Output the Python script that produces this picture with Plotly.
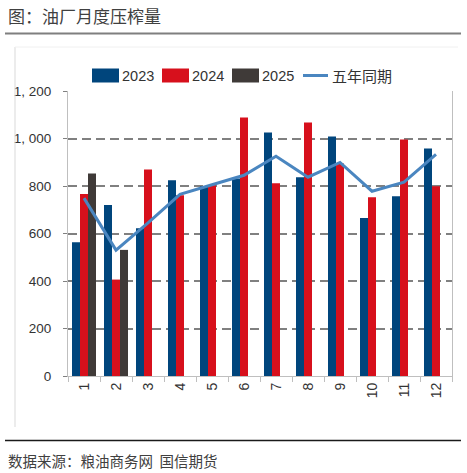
import plotly.graph_objects as go

# data
months = ["1", "2", "3", "4", "5", "6", "7", "8", "9", "10", "11", "12"]
y2023 = [563, 720, 622, 824, 799, 832, 1025, 837, 1008, 665, 757, 958]
y2024 = [766, 406, 870, 761, 803, 1088, 812, 1067, 895, 753, 996, 799]
y2025 = [853, 531, None, None, None, None, None, None, None, None, None, None]
avg5 = [749, 530, 645, 765, 805, 845, 925, 837, 899, 778, 816, 933]
series_names = ["2023", "2024", "2025", "五年同期"]
y_ticks = [0, 200, 400, 600, 800, 1000, 1200]
y_tick_text = ["0", "200", "400", "600", "800", "1, 000", "1, 200"]

title_text = "图：油厂月度压榨量"
source_text = "数据来源：粮油商务网  国信期货"

colors = ["#00457C", "#D7101C", "#3F3A38", "#4A86C0"]

W, H = 467, 473
L, R, T, B = 68, 452, 91, 376  # plot area in pixels
num_font = "Liberation Sans"
cjk_font = "Noto Sans CJK SC"


def px(p):
    return (p - L) / (R - L)


def py(p):
    return (B - p) / (B - T)


fig = go.Figure()
for name, vals, col in zip(series_names[:3], [y2023, y2024, y2025], colors[:3]):
    fig.add_trace(go.Bar(x=months, y=vals, name=name, marker_color=col,
                         marker_line_width=0, showlegend=False))
fig.add_trace(go.Scatter(x=months, y=avg5, name=series_names[3], mode="lines",
                         line=dict(color=colors[3], width=3), showlegend=False))

fig.update_layout(
    width=W, height=H,
    margin=dict(l=L, r=W - R, t=T, b=H - B),
    paper_bgcolor="white", plot_bgcolor="white",
    barmode="group", bargap=0.25, bargroupgap=0,
    font=dict(family=num_font, color="#333333"),
)
fig.update_xaxes(
    type="category", showline=True, linecolor="#BFBFBF", linewidth=1,
    ticks="outside", tickson="boundaries", ticklen=5, tickcolor="#BFBFBF",
    tickangle=-90, tickfont=dict(family=num_font, size=14, color="#333333"),
    showgrid=False,
)
fig.update_yaxes(
    range=[0, 1200], tickvals=y_ticks, ticktext=y_tick_text,
    showline=True, mirror=True, linecolor="#BFBFBF", linewidth=1,
    ticks="outside", ticklen=4, tickcolor="#808080", ticklabelstandoff=9,
    tickfont=dict(family=num_font, size=13.5, color="#333333"),
    showgrid=True, gridcolor="#808080", gridwidth=1.5, griddash="9px,5px",
    zeroline=False,
)

shapes = []
annotations = []

# manual legend
legend_boxes = [(92, 119), (162, 189), (232, 259)]
for (x0, x1), name, col in zip(legend_boxes, series_names[:3], colors[:3]):
    shapes.append(dict(type="rect", xref="paper", yref="paper",
                       x0=px(x0), x1=px(x1), y0=py(82.5), y1=py(68.5),
                       fillcolor=col, line_width=0))
    annotations.append(dict(text=name, x=px(x1 + 1), y=py(75.5), xref="paper", yref="paper",
                            xanchor="left", yanchor="middle", showarrow=False,
                            font=dict(family=num_font, size=14.5, color="#333333")))
shapes.append(dict(type="line", xref="paper", yref="paper",
                   x0=px(303), x1=px(328), y0=py(75.5), y1=py(75.5),
                   line=dict(color=colors[3], width=3)))
annotations.append(dict(text=series_names[3], x=px(330), y=py(75.5), xref="paper", yref="paper",
                        xanchor="left", yanchor="middle", showarrow=False,
                        font=dict(family=cjk_font, size=15, color="#333333")))

# title, rules, frame and source
annotations.append(dict(text=title_text, x=px(6), y=py(15), xref="paper", yref="paper",
                        xanchor="left", yanchor="middle", showarrow=False,
                        font=dict(family=cjk_font, size=17, color="#404040")))
shapes.append(dict(type="line", xref="paper", yref="paper",
                   x0=px(5), x1=px(461), y0=py(33.5), y1=py(33.5),
                   line=dict(color="#7F7F7F", width=2)))
shapes.append(dict(type="line", xref="paper", yref="paper",
                   x0=px(15), x1=px(15), y0=py(47), y1=py(427),
                   line=dict(color="#D9D9D9", width=1)))
shapes.append(dict(type="line", xref="paper", yref="paper",
                   x0=px(15), x1=px(458), y0=py(47), y1=py(47),
                   line=dict(color="#F0F0F0", width=1)))
shapes.append(dict(type="line", xref="paper", yref="paper",
                   x0=px(5), x1=px(461), y0=py(440.5), y1=py(440.5),
                   line=dict(color="#1A1A1A", width=1.5)))
annotations.append(dict(text=source_text, x=px(6), y=py(460.5), xref="paper", yref="paper",
                        xanchor="left", yanchor="middle", showarrow=False,
                        font=dict(family=cjk_font, size=14.5, color="#404040")))

fig.update_layout(shapes=shapes, annotations=annotations)
# drop the browser's default body margin so the figure sits at the page corner
fig.write_html("out.html", config={"displayModeBar": False},
               post_script="document.body.style.margin='0px';")
